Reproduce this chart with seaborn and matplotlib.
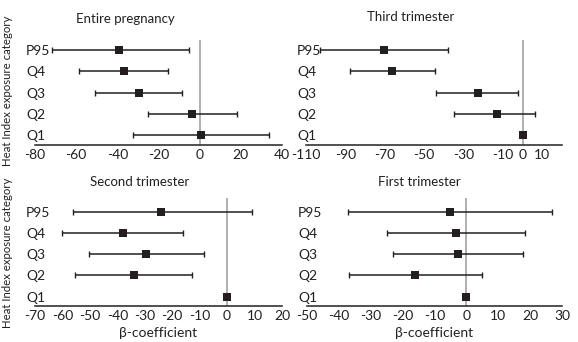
import numpy as np
import pandas as pd
import matplotlib
matplotlib.use("Agg")
import matplotlib.pyplot as plt
import seaborn as sns

sns.set_style("white")
plt.rcParams['font.family'] = ['Lato', 'DejaVu Sans']

categories = ["Q1", "Q2", "Q3", "Q4", "P95"]

titles = ["Entire pregnancy", "Third trimester", "Second trimester", "First trimester"]

# beta estimates, lower CI, upper CI (order Q1, Q2, Q3, Q4, P95)
entire_est = [0.5, -3.8, -29.7, -37.0, -39.0]
entire_lo = [-32.5, -24.9, -50.8, -58.6, -71.6]
entire_hi = [33.5, 18.1, -8.6, -15.5, -5.0]

third_est = [0.0, -13.2, -22.8, -66.4, -70.3]
third_lo = [0.0, -35.0, -43.9, -87.5, -102.7]
third_hi = [0.0, 6.3, -2.2, -44.3, -38.0]

second_est = [0.0, -33.8, -29.7, -37.8, -24.1]
second_lo = [0.0, -55.4, -50.3, -60.3, -56.3]
second_hi = [0.0, -12.9, -8.6, -16.2, 8.9]

first_est = [0.0, -16.0, -2.5, -3.1, -5.0]
first_lo = [0.0, -36.8, -23.0, -24.8, -37.1]
first_hi = [0.0, 4.9, 17.9, 18.5, 27.0]

xlims = [(-80, 40), (-110, 20), (-70, 20), (-50, 30)]
xticks = [list(range(-80, 41, 20)),
          [-110, -90, -70, -50, -30, -10, 0, 10],
          list(range(-70, 21, 10)),
          list(range(-50, 31, 10))]

panels = [(entire_est, entire_lo, entire_hi),
          (third_est, third_lo, third_hi),
          (second_est, second_lo, second_hi),
          (first_est, first_lo, first_hi)]

W, H = 578, 342
fig = plt.figure(figsize=(W / 100, H / 100), dpi=100)

# pixel boxes: left, right, top, bottom
boxes = [(35, 282, 40, 145), (306, 562, 40, 145),
         (35, 282, 198, 306), (307, 562, 198, 306)]
ylims = [(-0.47, 4.47), (-0.47, 4.47), (-0.44, 4.64), (-0.44, 4.64)]
title_x = [0.364, 0.41, 0.425, 0.44]
title_y = [19, 17, 182, 182]

black = "#231f20"
for i, ((est, lo, hi), (l, r, t, b)) in enumerate(zip(panels, boxes)):
    ax = fig.add_axes([l / W, 1 - b / H, (r - l) / W, (b - t) / H])
    df = pd.DataFrame({"cat": categories, "est": est, "lo": lo, "hi": hi})
    ax.axvline(0, color="#9a9a9a", lw=1.1, zorder=1)
    ypos = np.arange(len(categories))
    xerr = np.vstack([df["est"] - df["lo"], df["hi"] - df["est"]])
    ax.errorbar(df["est"], ypos, xerr=xerr, fmt="none", ecolor=black,
                elinewidth=1.1, capsize=2, capthick=1.0, zorder=2)
    sns.scatterplot(x=df["est"], y=ypos, marker="s", s=32, color=black,
                    edgecolor=black, linewidth=0, ax=ax, zorder=3)
    ax.set_xlim(*xlims[i])
    ax.set_ylim(*ylims[i])
    ax.set_xticks(xticks[i])
    ax.set_xticklabels([str(v) for v in xticks[i]])
    ax.set_yticks(ypos)
    ax.set_yticklabels(categories)
    for s in ["top", "right", "left"]:
        ax.spines[s].set_visible(False)
    ax.spines["bottom"].set_color(black)
    ax.spines["bottom"].set_linewidth(1.1)
    ax.tick_params(axis="x", direction="inout", length=4, width=1,
                   color=black, labelsize=10, pad=1, labelcolor=black)
    ax.tick_params(axis="y", length=0, pad=6.5, labelsize=10, labelcolor=black)
    for lab in ax.get_yticklabels():
        lab.set_ha("left")
    ax.set_xlabel("")
    ax.set_ylabel("")
    fig.text((l + title_x[i] * (r - l)) / W, 1 - title_y[i] / H, titles[i],
             ha="center", va="center", fontsize=9.5, color=black)
    if i >= 2:
        fig.text((l + r) / 2 / W, 1 - 333 / H, "β-coefficient",
                 ha="center", va="center", fontsize=10, color=black)

fig.text(8 / W, 1 - 91 / H, "Heat Index exposure category", rotation=90,
         ha="center", va="center", fontsize=8.2, color=black)
fig.text(8 / W, 1 - 253 / H, "Heat Index exposure category", rotation=90,
         ha="center", va="center", fontsize=8.2, color=black)

fig.savefig("out.png", dpi=100)
